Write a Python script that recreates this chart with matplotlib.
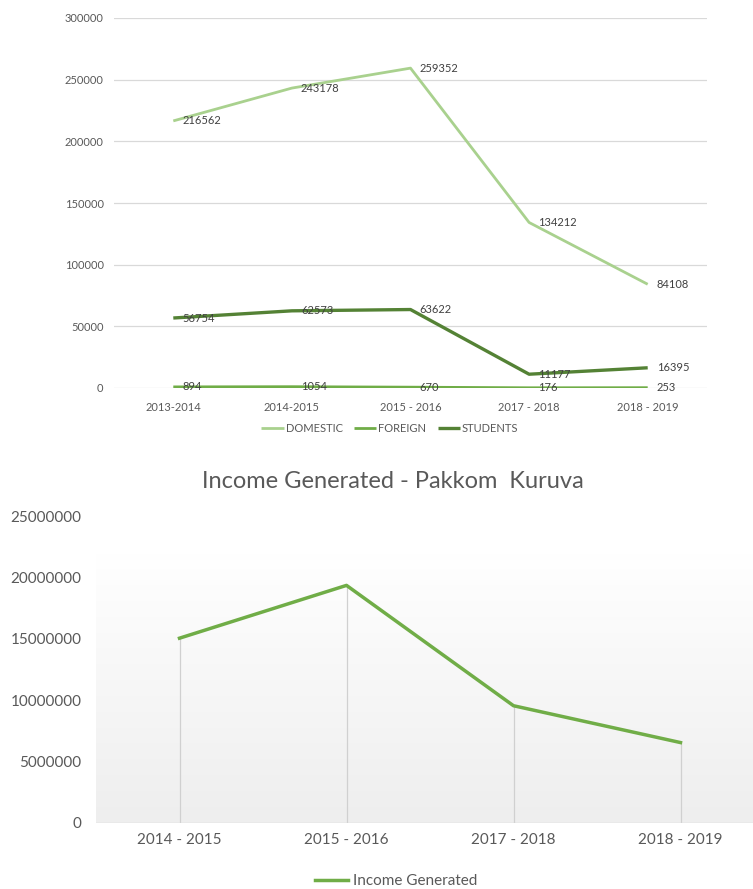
import matplotlib
matplotlib.use("Agg")
import matplotlib.pyplot as plt
import numpy as np
from matplotlib.colors import LinearSegmentedColormap

plt.rcParams['font.family'] = ['Lato', 'DejaVu Sans']

# ---- data: visitors ----
years_top = ["2013-2014", "2014-2015", "2015 - 2016", "2017 - 2018", "2018 - 2019"]
domestic = [216562, 243178, 259352, 134212, 84108]
foreign = [894, 1054, 670, 176, 253]
students = [56754, 62573, 63622, 11177, 16395]
top_yticks = [0, 50000, 100000, 150000, 200000, 250000, 300000]

# ---- data: income ----
years_bottom = ["2014 - 2015", "2015 - 2016", "2017 - 2018", "2018 - 2019"]
income = [15050000, 19350000, 9550000, 6550000]
bottom_yticks = [0, 5000000, 10000000, 15000000, 20000000, 25000000]

TXT = '#595959'
W, H = 753, 889
fig = plt.figure(figsize=(W / 100, H / 100), dpi=100)

# ---------------- top chart ----------------
ax1 = fig.add_axes([114 / W, 1 - 388 / H, (707 - 114) / W, (388 - 18) / H])
x1 = np.arange(len(years_top))
series = [("DOMESTIC", domestic, '#a9d18e', 2.0),
          ("FOREIGN", foreign, '#70ad47', 2.0),
          ("STUDENTS", students, '#548235', 2.4)]
for name, vals, col, lw in series:
    ax1.plot(x1, vals, color=col, lw=lw, label=name, zorder=3, solid_capstyle='butt')
    for xi, v in zip(x1, vals):
        ax1.annotate(str(v), (xi, v), xytext=(6.5, 0), textcoords='offset points',
                     ha='left', va='center', fontsize=8, color='#404040', zorder=4)
ax1.set_xlim(-0.5, len(years_top) - 0.5)
ax1.set_ylim(0, 300000)
ax1.set_yticks(top_yticks)
ax1.set_yticklabels([str(t) for t in top_yticks])
ax1.set_xticks(x1)
ax1.set_xticklabels(years_top)
ax1.grid(axis='y', color='#d9d9d9', lw=0.9)
ax1.set_axisbelow(True)
for s in ax1.spines.values():
    s.set_visible(False)
ax1.tick_params(length=0, labelsize=8, labelcolor=TXT)
ax1.tick_params(axis='y', pad=7.5)
ax1.tick_params(axis='x', pad=10)
fig.legend(handles=ax1.get_lines(), loc='center', bbox_to_anchor=(390 / W, 1 - 428 / H), ncol=3,
           frameon=False, fontsize=8, handlelength=2.0, handletextpad=0.2,
           columnspacing=1.0, labelcolor=TXT)

# ---------------- bottom chart ----------------
ax2 = fig.add_axes([96 / W, 1 - 823 / H, 668 / W, 307 / H])
x2 = np.arange(len(years_bottom))
frac = (823 - 553) / 307
grad = np.linspace(1, 0, 256).reshape(-1, 1)
cmap = LinearSegmentedColormap.from_list('g', ['#eeeeee', '#ffffff'])
ax2.imshow(grad, extent=[0, 1, 0, frac], transform=ax2.transAxes, aspect='auto',
           cmap=cmap, zorder=0, vmin=0, vmax=1)
ax2.vlines(x2, 0, income, color='#d0d0d0', lw=0.9, zorder=1)
ax2.axhline(0, color='#d9d9d9', lw=1.0, zorder=1)
income_line, = ax2.plot(x2, income, color='#70ad47', lw=2.5, label='Income Generated', zorder=3)
ax2.set_xlim(-0.5, len(years_bottom) - 0.5)
ax2.set_ylim(0, 25000000)
ax2.set_yticks(bottom_yticks)
ax2.set_yticklabels([str(t) for t in bottom_yticks])
ax2.set_xticks(x2)
ax2.set_xticklabels(years_bottom)
ax2.set_facecolor('none')
for s in ax2.spines.values():
    s.set_visible(False)
ax2.tick_params(length=0, labelsize=11, labelcolor=TXT)
ax2.tick_params(axis='y', pad=10.5)
ax2.tick_params(axis='x', pad=7)
fig.text(393 / W, 1 - 481 / H, "Income Generated - Pakkom  Kuruva", ha='center', va='center',
         fontsize=17, color=TXT)
fig.legend(handles=[income_line], loc='center', bbox_to_anchor=(396 / W, 1 - 881 / H),
           frameon=False, fontsize=11, handlelength=2.2, handletextpad=0.3, labelcolor=TXT)

fig.savefig('out.png', dpi=100, facecolor='white')
